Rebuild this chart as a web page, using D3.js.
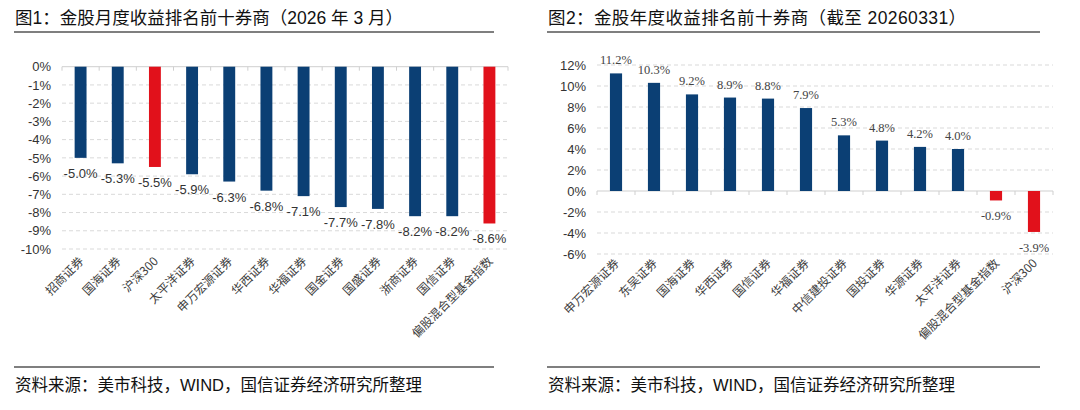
<!DOCTYPE html>
<html>
<head>
<meta charset="utf-8">
<script src="https://cdn.jsdelivr.net/npm/d3@7"></script>
<style>
  body { margin: 0; background: #fff; }
  svg { display: block; }
</style>
</head>
<body>
<div id="chart"></div>
<script>
// fig 1 - monthly
var monthNames = ["招商证券", "国海证券", "沪深300", "太平洋证券", "申万宏源证券", "华西证券", "华福证券", "国金证券", "国盛证券", "浙商证券", "国信证券", "偏股混合型基金指数"];
var monthValues = [-5.0, -5.3, -5.5, -5.9, -6.3, -6.8, -7.1, -7.7, -7.8, -8.2, -8.2, -8.6];
var monthTicks = [0, -1, -2, -3, -4, -5, -6, -7, -8, -9, -10];

// fig 2 - year to date
var yearNames = ["申万宏源证券", "东吴证券", "国海证券", "华西证券", "国信证券", "华福证券", "中信建投证券", "国投证券", "华源证券", "太平洋证券", "偏股混合型基金指数", "沪深300"];
var yearValues = [11.2, 10.3, 9.2, 8.9, 8.8, 7.9, 5.3, 4.8, 4.2, 4.0, -0.9, -3.9];
var yearTicks = [12, 10, 8, 6, 4, 2, 0, -2, -4, -6];

var redNames = ["沪深300", "偏股混合型基金指数"];
var blue = "#0b3f74", red = "#e1111b";
var sans = "'Liberation Sans', 'Noto Sans CJK SC', sans-serif";

var svg = d3.select("#chart").append("svg")
    .attr("width", 1080)
    .attr("height", 410);

function drawPanel(opt) {
    var g = svg.append("g");

    // title + rules
    var title = g.append("text")
      .attr("x", opt.left)
      .attr("y", 24)
      .style("font-family", sans)
      .style("font-size", "17.5px")
      .style("fill", "#111")
      .text(opt.title);
    if (opt.titleLength) {
      title.attr("textLength", opt.titleLength).attr("lengthAdjust", "spacing");
    }
    g.append("line")
      .attr("x1", opt.left - 1).attr("x2", opt.right)
      .attr("y1", 32).attr("y2", 32)
      .style("stroke", "#555").style("stroke-width", 1.3);
    g.append("line")
      .attr("x1", opt.left - 1).attr("x2", opt.right)
      .attr("y1", 367).attr("y2", 367)
      .style("stroke", "#555").style("stroke-width", 1.3);
    g.append("text")
      .attr("x", opt.left)
      .attr("y", 391)
      .style("font-family", sans)
      .style("font-size", "16.5px")
      .style("fill", "#111")
      .text("资料来源：美市科技，WIND，国信证券经济研究所整理");

    var x = d3.scaleBand()
      .domain(opt.names)
      .range([opt.x0, opt.x1])
      .paddingInner(0.68)
      .paddingOuter(0.34);

    var y = d3.scaleLinear()
      .domain(opt.domain)
      .range([opt.yBottom, opt.yTop]);

    // grid
    g.selectAll(".grid")
      .data(opt.ticks.filter(d => d !== 0))
      .enter()
      .append("line")
        .attr("x1", opt.x0).attr("x2", opt.x1)
        .attr("y1", d => y(d)).attr("y2", d => y(d))
        .style("stroke", "#d9d9d9")
        .style("stroke-dasharray", "4,3");

    var yAxis = g.append("g")
      .attr("transform", "translate(" + (opt.x0 - 8) + ",0)")
      .call(d3.axisLeft(y).tickValues(opt.ticks).tickSize(0).tickFormat(d => d + "%"));
    yAxis.select(".domain").remove();
    yAxis.selectAll("text")
      .style("font-family", sans)
      .style("font-size", "13px")
      .style("fill", "#333");

    // zero line with ticks
    g.append("line")
      .attr("x1", opt.x0).attr("x2", opt.x1)
      .attr("y1", y(0)).attr("y2", y(0))
      .style("stroke", "#cfcfcf");
    var step = x.step();
    g.selectAll(".zt")
      .data(d3.range(opt.names.length + 1))
      .enter()
      .append("line")
        .attr("x1", d => opt.x0 + d * step).attr("x2", d => opt.x0 + d * step)
        .attr("y1", y(0)).attr("y2", y(0) + 4)
        .style("stroke", "#cfcfcf");

    // bars
    g.selectAll(".bar")
      .data(opt.values)
      .enter()
      .append("rect")
        .attr("x", (d, i) => x(opt.names[i]))
        .attr("width", x.bandwidth())
        .attr("y", d => y(Math.max(0, d)))
        .attr("height", d => Math.abs(y(d) - y(0)))
        .style("fill", (d, i) => redNames.indexOf(opt.names[i]) >= 0 ? red : blue);

    // value labels
    g.selectAll(".val")
      .data(opt.values)
      .enter()
      .append("text")
        .attr("x", (d, i) => x(opt.names[i]) + x.bandwidth() / 2)
        .attr("y", d => d < 0 ? y(d) + opt.negOff : y(d) - 9)
        .attr("text-anchor", "middle")
        .style("font-family", opt.labelFont)
        .style("font-size", opt.labelSize)
        .style("fill", opt.labelColor)
        .text(d => d.toFixed(1) + "%");

    // category labels
    g.selectAll(".cat")
      .data(opt.names)
      .enter()
      .append("text")
        .attr("transform", d => "translate(" + (x(d) + x.bandwidth() / 2 + 4) + "," + (opt.yBottom + opt.catOff) + ") rotate(-45)")
        .attr("text-anchor", "end")
        .style("font-family", "'Noto Sans CJK SC', sans-serif")
        .style("font-size", "12px")
        .style("fill", "#404040")
        .text(d => d);
}

drawPanel({
    title: "图1：金股月度收益排名前十券商（2026 年 3 月）",
    left: 15, right: 494,
    names: monthNames, values: monthValues, ticks: monthTicks,
    domain: [-10, 0], yTop: 66.7, yBottom: 249,
    x0: 62, x1: 508,
    negOff: 20, labelFont: sans, labelSize: "13px", labelColor: "#333",
    catOff: 13
});

drawPanel({
    title: "图2：金股年度收益排名前十券商（截至 20260331）",
    titleLength: 418,
    left: 548, right: 1040,
    names: yearNames, values: yearValues, ticks: yearTicks,
    domain: [-6, 12], yTop: 65, yBottom: 254,
    x0: 597, x1: 1053,
    negOff: 20, labelFont: "'Liberation Serif', serif", labelSize: "12.5px", labelColor: "#444",
    catOff: 10
});
</script>
</body>
</html>
